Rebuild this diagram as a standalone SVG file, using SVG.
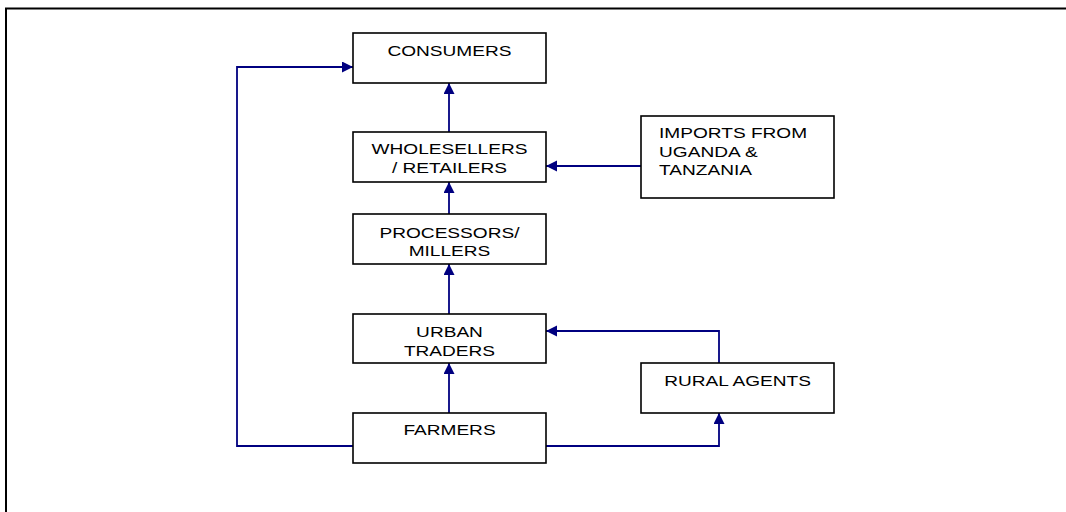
<svg xmlns="http://www.w3.org/2000/svg" width="1066" height="512" viewBox="0 0 1066 512">
<style>
.box{fill:#fff;stroke:#000;stroke-width:1.6}
.lbl{font-family:"Liberation Sans",Arial,sans-serif;font-size:15.4px;fill:#000}
.c{text-anchor:middle}
.con{fill:none;stroke:#000080;stroke-width:1.8}
</style>
<defs>
<marker id="ah" markerUnits="userSpaceOnUse" markerWidth="12" markerHeight="12" refX="11" refY="5.5" orient="auto">
<path d="M0,0 L11,5.5 L0,11 Z" fill="#000080"/>
</marker>
</defs>
<rect x="0" y="0" width="1066" height="512" fill="#fff"/>
<path d="M6,520 V8.5 H1070" fill="none" stroke="#000" stroke-width="2"/>
<g id="connectors">
<path class="con" d="M449,413 V363" marker-end="url(#ah)"/>
<path class="con" d="M449,314 V264" marker-end="url(#ah)"/>
<path class="con" d="M449,214 V182" marker-end="url(#ah)"/>
<path class="con" d="M449,132 V83" marker-end="url(#ah)"/>
<path class="con" d="M641,166 H546" marker-end="url(#ah)"/>
<path class="con" d="M719,363 V331 H546" marker-end="url(#ah)"/>
<path class="con" d="M546,446 H719 V413" marker-end="url(#ah)"/>
<path class="con" d="M353,446 H237 V67 H353" marker-end="url(#ah)"/>
</g>
<g id="consumers">
<rect class="box" x="353" y="33" width="193" height="50"/>
<text class="lbl c" transform="scale(1.24,1)" x="362.5" y="56">CONSUMERS</text>
</g>
<g id="wholesellers">
<rect class="box" x="353" y="132" width="193" height="50"/>
<text class="lbl c" transform="scale(1.24,1)" x="362.5" y="154.3">WHOLESELLERS</text>
<text class="lbl c" transform="scale(1.24,1)" x="362.5" y="173.3">/ RETAILERS</text>
</g>
<g id="processors">
<rect class="box" x="353" y="214" width="193" height="50"/>
<text class="lbl c" transform="scale(1.24,1)" x="362.5" y="238.3">PROCESSORS/</text>
<text class="lbl c" transform="scale(1.24,1)" x="362.5" y="256.5">MILLERS</text>
</g>
<g id="urban-traders">
<rect class="box" x="353" y="314" width="193" height="49"/>
<text class="lbl c" transform="scale(1.24,1)" x="362.5" y="336.7">URBAN</text>
<text class="lbl c" transform="scale(1.24,1)" x="362.5" y="355.7">TRADERS</text>
</g>
<g id="farmers">
<rect class="box" x="353" y="413" width="193" height="50"/>
<text class="lbl c" transform="scale(1.24,1)" x="362.5" y="435">FARMERS</text>
</g>
<g id="imports">
<rect class="box" x="641" y="116" width="193" height="82"/>
<text class="lbl" transform="scale(1.24,1)" x="531.5" y="138.5">IMPORTS FROM</text>
<text class="lbl" transform="scale(1.24,1)" x="531.5" y="157">UGANDA &amp;</text>
<text class="lbl" transform="scale(1.24,1)" x="531.5" y="175">TANZANIA</text>
</g>
<g id="rural-agents">
<rect class="box" x="641" y="363" width="193" height="50"/>
<text class="lbl c" transform="scale(1.24,1)" x="594.8" y="386">RURAL AGENTS</text>
</g>
</svg>
